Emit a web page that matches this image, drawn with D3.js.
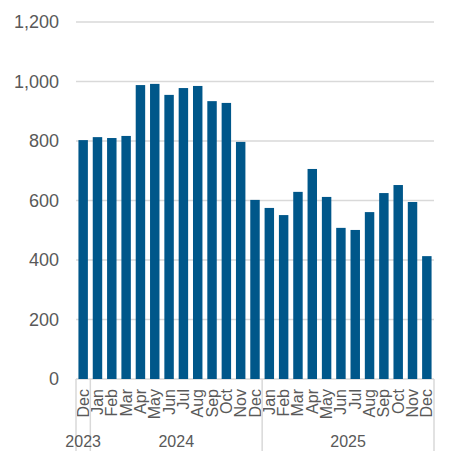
<!DOCTYPE html>
<meta charset="utf-8">
<head>
<style>
body { margin: 0; background: #fff; }
text { font-family: "Liberation Sans", Arial, sans-serif; fill: #595959; }
.grid line { stroke: #d9d9d9; stroke-width: 1.5; }
.bar { fill: #00578a; }
</style>
</head>
<body>
<script src="https://d3js.org/d3.v7.min.js"></script>
<script>

var months = ["Dec", "Jan", "Feb", "Mar", "Apr", "May", "Jun", "Jul", "Aug", "Sep", "Oct", "Nov",
              "Dec", "Jan", "Feb", "Mar", "Apr", "May", "Jun", "Jul", "Aug", "Sep", "Oct", "Nov", "Dec"];
var values = [803, 813, 810, 817, 988, 992, 955, 978, 985, 934, 928, 797,
              602, 575, 551, 629, 706, 612, 508, 501, 561, 625, 652, 595, 413];
var years = ["2023", "2024", "2025"];
var yearCounts = [1, 12, 12];
var yTicks = [0, 200, 400, 600, 800, 1000, 1200];

// note: "top" is reserved on window, so use plotTop etc.
var width = 457,
    height = 463,
    plotLeft = 76,
    plotRight = 434,
    plotTop = 22,
    plotBottom = 379;

var svg = d3.select("body").append("svg")
    .attr("width", width)
    .attr("height", height);

var x = d3.scaleBand()
    .domain(d3.range(months.length))
    .range([plotLeft, plotRight])
    .paddingInner(0.34)
    .paddingOuter(0.17);

var y = d3.scaleLinear()
    .domain([0, 1200])
    .range([plotBottom, plotTop]);

var fmt = d3.format(",");

// gridlines
svg.append("g").attr("class", "grid")
  .selectAll("line")
  .data(yTicks)
  .join("line")
    .attr("x1", plotLeft)
    .attr("x2", plotRight)
    .attr("y1", function(d) { return y(d); })
    .attr("y2", function(d) { return y(d); });

// y labels
svg.append("g")
  .selectAll("text")
  .data(yTicks)
  .join("text")
    .attr("x", 59)
    .attr("y", function(d) { return y(d); })
    .attr("dy", "0.35em")
    .attr("text-anchor", "end")
    .style("font-size", "18px")
    .text(function(d) { return fmt(d); });

// bars
svg.append("g")
  .selectAll("rect")
  .data(values)
  .join("rect")
    .attr("class", "bar")
    .attr("x", function(d, i) { return x(i); })
    .attr("width", x.bandwidth())
    .attr("y", function(d) { return y(d); })
    .attr("height", function(d) { return y(0) - y(d); });

// month labels
svg.append("g")
  .selectAll("text")
  .data(months)
  .join("text")
    .attr("transform", function(d, i) {
      return "translate(" + (x(i) + x.bandwidth() / 2 + 5.5) + ",389) rotate(-90)";
    })
    .attr("text-anchor", "end")
    .style("font-size", "16px")
    .text(function(d) { return d; });

// year group boundaries and labels
var step = x.step();
var bounds = [0];
yearCounts.forEach(function(c, i) { bounds.push(bounds[i] + c); });

svg.append("g").attr("class", "grid")
  .selectAll("line")
  .data(bounds)
  .join("line")
    .attr("x1", function(d) { return plotLeft + d * step; })
    .attr("x2", function(d) { return plotLeft + d * step; })
    .attr("y1", plotBottom)
    .attr("y2", 451);

svg.append("g")
  .selectAll("text")
  .data(years)
  .join("text")
    .attr("x", function(d, i) { return plotLeft + (bounds[i] + bounds[i + 1]) / 2 * step; })
    .attr("y", 447)
    .attr("text-anchor", "middle")
    .style("font-size", "16px")
    .text(function(d) { return d; });

</script>
